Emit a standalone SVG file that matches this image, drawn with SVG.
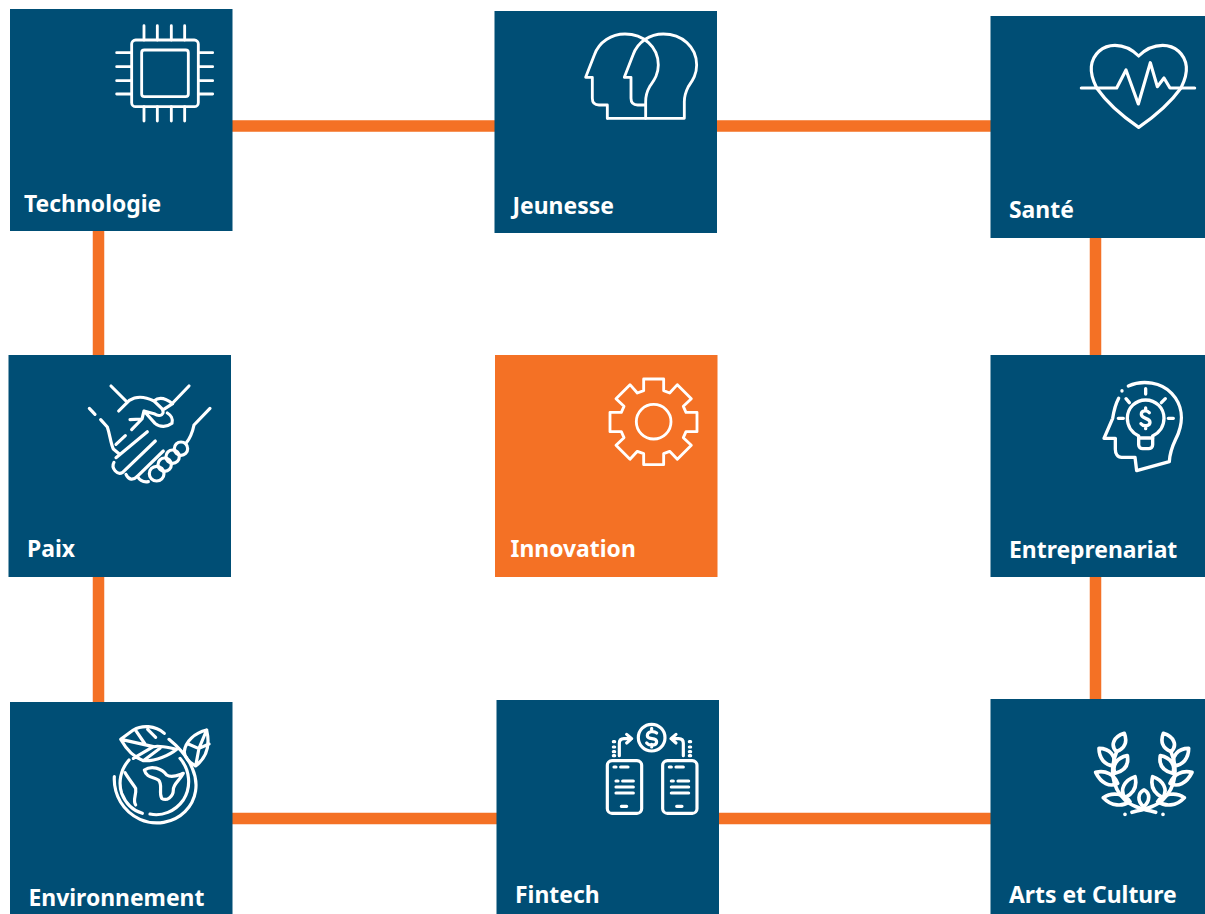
<svg xmlns="http://www.w3.org/2000/svg" width="1205" height="914" viewBox="0 0 1205 914">
<style>
.box{fill:#004e75}
.acc{fill:#f47125}
.lbl{font-family:"Noto Sans","Open Sans","Liberation Sans",sans-serif;font-weight:700;font-size:22.900px;fill:#fff}
.ic{fill:none;stroke:#fff;stroke-width:8.500;stroke-linecap:round;stroke-linejoin:round}
.con{stroke:#f47125;stroke-width:11.500;fill:none}
</style>
<rect width="1205" height="914" fill="#fff"/>
<g id="connectors" class="con">
<path d="M232 126H495M717 126H991M232 818.500H497M719 818.500H991M98.500 231V355M98.500 577V702M1095.500 238V355M1095.500 577V699"/>
</g>
<g id="technologie">
<rect class="box" x="10" y="9" width="222.500" height="222"/>
<g class="ic" transform="translate(100 10) scale(.3333)">
<rect x="95" y="90" width="200" height="200" rx="12"/>
<rect x="125" y="120" width="140" height="140" rx="8"/>
<path d="M132 47V90M172 47V90M214 47V90M254 47V90M132 290V333M172 290V333M214 290V333M254 290V333M50 128H95M50 170H95M50 212H95M50 252H95M295 128H338M295 170H338M295 212H338M295 252H338"/>
</g>
<text class="lbl" x="24" y="212">Technologie</text>
</g>
<g id="jeunesse">
<rect class="box" x="494.500" y="11" width="222.500" height="222"/>
<g class="ic" transform="translate(575 20) scale(.3333)">
<path d="M97 295V255H72C58 255 52 247 52 235V172H32L58 105C72 65 110 42 150 42C205 42 250 80 250 135C250 165 236 182 224 200C216 214 212 228 212 245V295"/>
<path d="M97 295H328V245C328 228 333 214 340 200C352 182 365 165 365 135C365 80 320 42 265 42C225 42 188 65 174 105L148 172H168V235C168 247 175 255 188 255H212"/>
</g>
<text class="lbl" x="512.500" y="214">Jeunesse</text>
</g>
<g id="sante">
<rect class="box" x="990.500" y="16" width="214.500" height="222"/>
<g class="ic" style="stroke-width:9.500" transform="translate(1070 30) scale(.3333)">
<path d="M80 174C68 150 62 130 64 110C68 72 98 46 135 46C165 46 188 60 206 78C224 60 248 46 278 46C315 46 345 72 349 110C351 130 345 150 333 174C300 220 250 262 206 292C162 262 112 220 80 174Z"/>
<path d="M34 174H140L168 120L205 222L241 98L262 170L282 144L300 174H374"/>
</g>
<text class="lbl" x="1009" y="218">Santé</text>
</g>
<g id="paix">
<rect class="box" x="8.500" y="355" width="222.500" height="222"/>
<g class="ic" style="stroke-width:9.500" transform="translate(80 375) scale(.3333)">
<path d="M93 33L138 78M327 33L278 84M28 100L45 118M62 134L82 156C90 180 92 205 100 222L118 237"/>
<path d="M116 108L148 76C170 62 198 66 222 78C238 64 260 72 278 86L250 104M222 78L245 100C258 118 240 128 222 116L192 108L186 132L150 134M186 132L155 164M192 108L225 145C240 158 262 156 276 145C280 132 272 120 262 114"/>
<path d="M390 100L342 150C338 170 330 190 318 205M108 208L136 182M108 248L202 170M102 262C92 280 112 302 128 292L226 198M138 298C146 316 160 316 172 304L250 228"/>
<path d="M172 304C180 318 192 322 205 320"/>
<circle cx="303" cy="221" r="20"/><circle cx="278" cy="245" r="20"/><circle cx="254" cy="269" r="20"/><circle cx="230" cy="296" r="22"/>
</g>
<text class="lbl" x="27" y="557">Paix</text>
</g>
<g id="innovation">
<rect class="acc" x="495" y="355" width="222.500" height="222"/>
<g class="ic" transform="translate(600 370) scale(.3333)">
<circle cx="161" cy="155" r="52"/>
<path d="M131 27H191V62L209 69L232 44L274 86L250 109L258 127H291V185H258L250 203L274 226L232 268L209 244L191 251V284H131V251L112 244L90 268L48 226L72 203L64 185H30V127H64L72 109L48 86L90 44L112 69L131 62Z"/>
</g>
<text class="lbl" x="510.500" y="557">Innovation</text>
</g>
<g id="entreprenariat">
<rect class="box" x="990.500" y="355" width="214.500" height="222"/>
<g class="ic" style="stroke-width:10" transform="translate(1090 370) scale(.3333)">
<path d="M115 48C160 28 215 38 245 70C278 105 280 150 265 190C255 215 240 235 238 275L140 302L135 262H95C82 262 76 250 76 238V205L42 205L68 145C72 120 78 100 86 85"/>
<path d="M96 62V63M167 56V72M108 86L118 98M226 86L214 98M85 145H100M235 145H250"/>
<path d="M146 198C125 188 112 168 112 145C112 113 137 90 167 90C197 90 222 113 222 145C222 168 209 188 188 198V224C188 232 182 236 176 236H158C152 236 146 232 146 224Z"/>
<path d="M146 204H188"/>
<path d="M178 128C172 120 154 120 154 133C154 148 180 142 180 157C180 170 160 170 153 161M167 114V122M167 168V176"/>
</g>
<text class="lbl" x="1009" y="558">Entreprenariat</text>
</g>
<g id="environnement">
<rect class="box" x="10" y="702" width="222.500" height="212"/>
<g class="ic" style="stroke-width:9.500" transform="translate(105 720) scale(.3333)">
<path d="M72 120C45 150 40 190 50 220C62 250 85 272 112 280"/>
<path d="M225 115C255 150 260 200 235 240C210 275 170 290 135 282"/>
<path d="M28 170C25 225 55 275 105 298C150 318 205 310 240 275C275 240 282 190 262 145C250 115 225 85 192 58"/>
<path d="M178 40C150 15 110 15 85 30L47 58C65 90 85 112 115 122C150 125 195 105 215 88C185 82 165 75 145 80L48 58M90 28L120 72M145 80L85 115M128 28L152 52M165 85L115 122"/>
<path d="M60 158C70 175 82 190 92 205C95 225 82 240 92 255"/>
<path d="M118 150C140 135 170 145 185 165C200 175 220 165 235 160C222 185 205 190 205 210C205 230 185 245 170 235C160 215 175 195 160 180C145 170 125 175 118 150Z"/>
<path d="M305 30C270 38 240 65 238 95C238 110 245 122 272 138C298 118 318 85 305 30ZM272 138L282 85L305 30M250 72L280 85M282 85L312 72"/>
</g>
<text class="lbl" x="28.500" y="906">Environnement</text>
</g>
<g id="fintech">
<rect class="box" x="496.500" y="700" width="222.500" height="214"/>
<g class="ic" style="stroke-width:9.500" transform="translate(600 715) scale(.3333)">
<circle cx="155" cy="68" r="40"/>
<path d="M170 54C160 46 142 50 142 62C142 76 170 66 170 80C170 92 148 94 140 84M155 40V48M155 88V96"/>
<rect x="22" y="137" width="103" height="158" rx="14"/>
<rect x="188" y="137" width="103" height="158" rx="14"/>
<path d="M58 122V85C58 76 64 71 72 71H94M80 58L95 71L80 84M250 122V85C250 76 244 71 236 71H214M228 58L213 71L228 84"/>
<path d="M40 80H44M40 96H44M40 110H44M40 122H44M268 80H272M268 96H272M268 110H272M268 122H272"/>
<path d="M42 156H48M62 156H84M48 198H54M68 198H100M48 216H100M48 234H100M64 274H80M208 156H214M228 156H250M214 198H220M234 198H266M214 216H266M214 234H266M230 274H246"/>
</g>
<text class="lbl" x="515" y="903">Fintech</text>
</g>
<g id="arts">
<rect class="box" x="990.500" y="699" width="214.500" height="215"/>
<g class="ic" style="stroke-width:11" transform="translate(1085 725) scale(.3333)">
<path d="M95 80C75 130 78 185 120 225C140 245 175 252 212 262M258 80C278 130 275 185 233 225C213 245 178 252 141 262"/>
<path d="M118 25C85 35 75 62 95 80C120 70 128 50 118 25ZM42 70C42 100 60 122 85 122C95 95 75 70 42 70ZM127 92C95 98 80 122 90 145C118 138 132 120 127 92ZM32 142C48 175 75 188 98 175C88 148 62 135 32 142ZM150 155C118 165 103 195 120 218C145 205 158 185 150 155ZM55 218C80 200 118 205 135 230C112 245 80 245 55 218Z"/>
<path d="M235 25C268 35 278 62 258 80C233 70 225 50 235 25ZM311 70C311 100 293 122 268 122C258 95 278 70 311 70ZM226 92C258 98 273 122 263 145C235 138 221 120 226 92ZM321 142C305 175 278 188 255 175C265 148 291 135 321 142ZM203 155C235 165 250 195 233 218C208 205 195 185 203 155ZM298 218C273 200 235 205 218 230C241 245 273 245 298 218Z"/>
<path d="M177 195C158 205 156 228 176 245C196 228 196 205 177 195Z"/>
<path d="M120 268V268.500M234 268V268.500"/>
</g>
<text class="lbl" x="1009" y="903">Arts et Culture</text>
</g>
</svg>
